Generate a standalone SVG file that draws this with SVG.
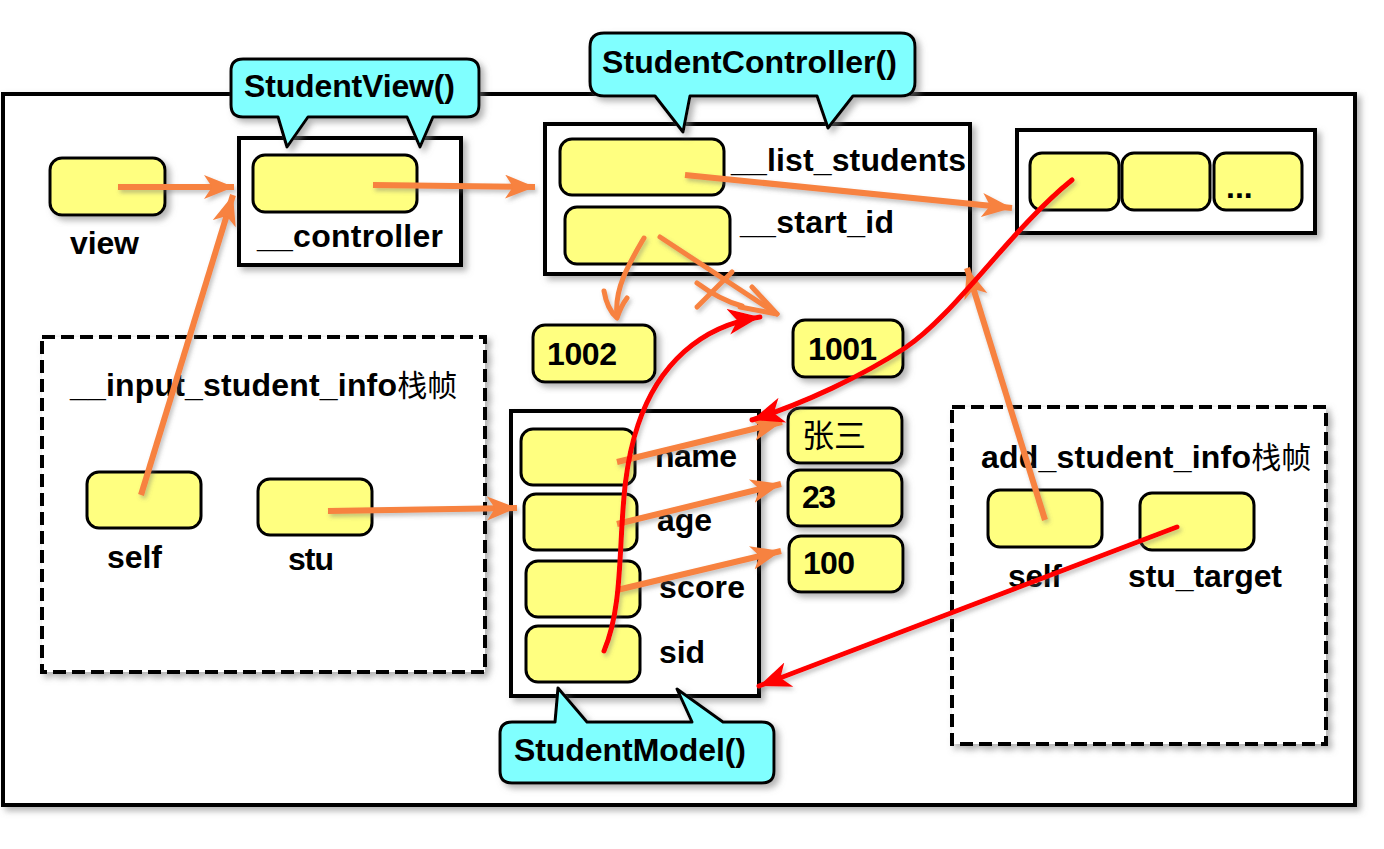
<svg xmlns="http://www.w3.org/2000/svg" width="1384" height="849" viewBox="0 0 1384 849">
<style>
text{font-family:"Liberation Sans","Noto Sans CJK SC",sans-serif;font-weight:bold;font-size:32px;fill:#000}
.cjk{font-family:"Noto Sans CJK SC",sans-serif;font-weight:normal}
.box{fill:#fff;stroke:#000;stroke-width:4}
.dash{fill:#fff;stroke:#000;stroke-width:4;stroke-dasharray:13 6}
.y{fill:#FFFF80;stroke:#000;stroke-width:3}
.call{fill:#80FFFF;stroke:#000;stroke-width:3;stroke-linejoin:round}
.o{fill:none;stroke:#F7823F;stroke-width:6}
.oc{fill:none;stroke:#F7823F;stroke-width:5;stroke-linecap:round;stroke-linejoin:round}
.r{fill:none;stroke:#FF0000;stroke-width:5;stroke-linecap:round}
</style>
<defs>
<filter id="sh" x="-10%" y="-10%" width="130%" height="130%">
<feDropShadow dx="4" dy="4" stdDeviation="3" flood-color="#777" flood-opacity="0.55"/>
</filter>
<filter id="lsh" x="-20%" y="-20%" width="140%" height="140%">
<feDropShadow dx="2" dy="3" stdDeviation="2" flood-color="#666" flood-opacity="0.4"/>
</filter>
<marker id="ao" markerUnits="userSpaceOnUse" markerWidth="34" markerHeight="26" refX="30" refY="12" orient="auto">
<path d="M0,0 L30,12 L0,24 L8,12 Z" fill="#F7823F"/>
</marker>
<marker id="ar" markerUnits="userSpaceOnUse" markerWidth="36" markerHeight="28" refX="32" refY="13" orient="auto">
<path d="M0,0 L32,13 L0,26 L9,13 Z" fill="#FF0000"/>
</marker>
</defs>
<rect width="1384" height="849" fill="#fff"/>

<g id="outer"><rect class="box" x="3" y="94" width="1352" height="711" filter="url(#sh)"/></g>

<g id="view-var">
<rect class="y" x="50" y="158" width="115" height="57" rx="12" filter="url(#sh)"/>
<text x="70" y="254" textLength="69">view</text>
</g>

<g id="view-obj">
<rect class="box" x="239" y="138" width="222" height="127" filter="url(#sh)"/>
<rect class="y" x="253" y="155" width="164" height="57" rx="12"/>
<text x="257" y="247" textLength="186">__controller</text>
</g>

<g id="controller-obj">
<rect class="box" x="545" y="124" width="425" height="150" filter="url(#sh)"/>
<rect class="y" x="560" y="139" width="164" height="56" rx="12"/>
<rect class="y" x="565" y="207" width="165" height="57" rx="12"/>
<text x="731" y="171" textLength="235">__list_students</text>
<text x="740" y="233" textLength="154">__start_id</text>
</g>

<g id="list-obj">
<rect class="box" x="1017" y="130" width="298" height="103" filter="url(#sh)"/>
<rect class="y" x="1030" y="153" width="89" height="57" rx="12"/>
<rect class="y" x="1122" y="153" width="88" height="57" rx="12"/>
<rect class="y" x="1214" y="153" width="88" height="57" rx="12"/>
<text x="1226" y="198">...</text>
</g>

<g id="v1002">
<rect class="y" x="533" y="325" width="122" height="57" rx="12" filter="url(#sh)"/>
<text x="547" y="365" textLength="70">1002</text>
</g>
<g id="v1001">
<rect class="y" x="793" y="320" width="110" height="57" rx="12" filter="url(#sh)"/>
<text x="808" y="360" textLength="69">1001</text>
</g>

<g id="input-frame">
<rect class="dash" x="42" y="337" width="443" height="335" filter="url(#sh)"/>
<text x="70" y="396"><tspan textLength="327">__input_student_info</tspan><tspan class="cjk" font-size="30">栈帧</tspan></text>
<rect class="y" x="87" y="472" width="114" height="56" rx="12"/>
<text x="107" y="568" textLength="55">self</text>
<rect class="y" x="258" y="479" width="114" height="56" rx="12"/>
<text x="288" y="570" textLength="46">stu</text>
</g>

<g id="model-obj">
<rect class="box" x="511" y="411" width="248" height="285" filter="url(#sh)"/>
<rect class="y" x="521" y="429" width="114" height="56" rx="12"/>
<rect class="y" x="524" y="494" width="113" height="56" rx="12"/>
<rect class="y" x="526" y="561" width="114" height="56" rx="12"/>
<rect class="y" x="526" y="626" width="114" height="56" rx="12"/>
<text x="655" y="467" textLength="82">name</text>
<text x="657" y="531" textLength="55">age</text>
<text x="659" y="598" textLength="86">score</text>
<text x="659" y="663" textLength="46">sid</text>
</g>

<g id="values">
<rect class="y" x="788" y="408" width="114" height="55" rx="12" filter="url(#sh)"/>
<text class="cjk" x="802" y="447" font-size="31">张三</text>
<rect class="y" x="788" y="470" width="114" height="56" rx="12" filter="url(#sh)"/>
<text x="802" y="508" textLength="34">23</text>
<rect class="y" x="789" y="536" width="114" height="56" rx="12" filter="url(#sh)"/>
<text x="803" y="574" textLength="52">100</text>
</g>

<g id="add-frame">
<rect class="dash" x="952" y="407" width="374" height="337" filter="url(#sh)"/>
<text x="981" y="468"><tspan textLength="270">add_student_info</tspan><tspan class="cjk" font-size="30">栈帧</tspan></text>
<rect class="y" x="988" y="490" width="114" height="57" rx="12"/>
<text x="1008" y="587" textLength="54">self</text>
<rect class="y" x="1140" y="493" width="114" height="57" rx="12"/>
<text x="1128" y="587" textLength="154">stu_target</text>
</g>

<g id="callout-view">
<path class="call" filter="url(#sh)" d="M243,59 H467 Q479,59 479,71 V105 Q479,117 467,117 H433 L420,147 L407,117 H308 L287,147 L278,117 H243 Q231,117 231,105 V71 Q231,59 243,59 Z"/>
<text x="244" y="97" textLength="211">StudentView()</text>
</g>

<g id="callout-controller">
<path class="call" filter="url(#sh)" d="M604,33 H901 Q915,33 915,47 V82 Q915,96 901,96 H853 L828,128 L817,96 H690 L683,132 L655,96 H604 Q590,96 590,82 V47 Q590,33 604,33 Z"/>
<text x="602" y="73" textLength="295">StudentController()</text>
</g>

<g id="callout-model">
<path class="call" filter="url(#sh)" d="M512,722 H555 L558,688 L587,722 H692 L677,689 L723,722 H762 Q774,722 774,734 V771 Q774,783 762,783 H512 Q500,783 500,771 V734 Q500,722 512,722 Z"/>
<text x="514" y="761" textLength="232">StudentModel()</text>
</g>

<g id="connectors" filter="url(#lsh)">
<line class="o" x1="118" y1="187" x2="234" y2="187" marker-end="url(#ao)"/>
<line class="o" x1="141" y1="495" x2="233" y2="195" marker-end="url(#ao)"/>
<line class="o" x1="373" y1="185" x2="535" y2="187" marker-end="url(#ao)"/>
<line class="o" x1="685" y1="175" x2="1012" y2="208" marker-end="url(#ao)"/>
<line class="o" x1="328" y1="511" x2="517" y2="508" marker-end="url(#ao)"/>
<line class="o" x1="617" y1="462" x2="782" y2="422" marker-end="url(#ao)"/>
<line class="o" x1="617" y1="524" x2="781" y2="484" marker-end="url(#ao)"/>
<line class="o" x1="617" y1="590" x2="781" y2="551" marker-end="url(#ao)"/>
<line class="o" x1="1045" y1="520" x2="967" y2="268" marker-end="url(#ao)"/>
<path class="oc" d="M644,238 C630,262 614,288 617,316"/>
<path class="oc" d="M604,291 Q607,309 617,318 Q621,306 627,298"/>
<path class="oc" d="M660,237 L777,314"/>
<path class="oc" d="M752,287 L777,314 L740,307"/>
<path class="oc" d="M697,283 Q720,300 742,306"/>
<path class="oc" d="M732,272 L697,307"/>
<path class="r" d="M604,651 C630,590 612,500 638,425 C658,365 700,326 760,317" marker-end="url(#ar)"/>
<path class="r" d="M1072,180 C1010,230 955,315 905,348 C862,376 805,403 752,420" marker-end="url(#ar)"/>
<line class="r" x1="1177" y1="527" x2="759" y2="686" marker-end="url(#ar)"/>
</g>
</svg>
